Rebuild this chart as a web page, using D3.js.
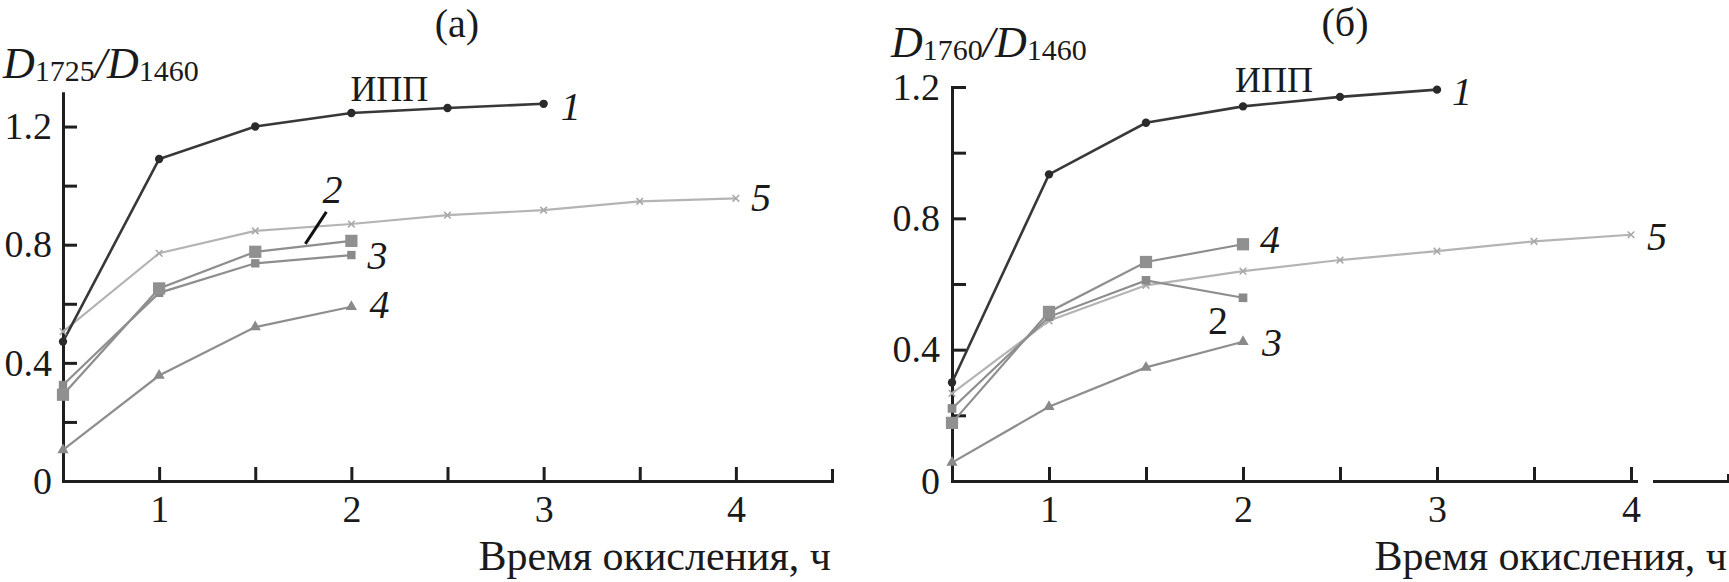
<!DOCTYPE html>
<html>
<head>
<meta charset="utf-8">
<script src="https://cdn.jsdelivr.net/npm/d3@7"></script>
<style>
  html, body { margin: 0; padding: 0; background: #fff; }
  svg { display: block; }
</style>
</head>
<body>
<svg id="chart" width="1729" height="582"></svg>
<script>
// ---------- data ----------
const xTicks = [1, 1.5, 2, 2.5, 3, 3.5, 4];
const xTickLabels = ["1", "", "2", "", "3", "", "4"];
const yTicks = [0, 0.2, 0.4, 0.6, 0.8, 1.0, 1.2];
const yTickLabels = ["0", "", "0.4", "", "0.8", "", "1.2"];

const timeLong = [0.5, 1, 1.5, 2, 2.5, 3, 3.5, 4];
const timeMid = [0.5, 1, 1.5, 2, 2.5, 3];
const timeShort = [0.5, 1, 1.5, 2];

// panel (а): D1725/D1460
const a1 = [0.472, 1.09, 1.20, 1.246, 1.263, 1.277];
const a2 = [0.292, 0.652, 0.776, 0.813];
const a3 = [0.325, 0.637, 0.737, 0.765];
const a4 = [0.105, 0.357, 0.521, 0.590];
const a5 = [0.506, 0.771, 0.847, 0.870, 0.900, 0.917, 0.947, 0.957];

// panel (б): D1760/D1460
const b1 = [0.300, 0.934, 1.091, 1.141, 1.170, 1.192];
const b2 = [0.221, 0.500, 0.611, 0.558];
const b3 = [0.056, 0.226, 0.346, 0.424];
const b4 = [0.177, 0.515, 0.667, 0.721];
const b5 = [0.267, 0.488, 0.596, 0.639, 0.673, 0.700, 0.730, 0.750];

const xTitle = "Время окисления, ч";

// ---------- drawing ----------
const FONT = "'Liberation Serif'";
const svg = d3.select("#chart");
const AX = "#1e1e1e";
const DARK = "#383838", MID = "#8e8e8e", LIGHT = "#b4b4b4";

function zip(xs, ys) { return xs.map((x, i) => ({ x, y: ys[i] })); }

function drawPanel(cfg) {
  const g = svg.append("g");
  const x = d3.scaleLinear().domain([0.5, 4.5]).range(cfg.xRange);
  const y = d3.scaleLinear().domain([0, cfg.yTop]).range([481, cfg.yTopPx]);

  // x axis
  const xa = g.append("g").attr("transform", `translate(0,${y(0)})`)
    .call(d3.axisBottom(x).tickValues(xTicks)
      .tickFormat((d, i) => xTickLabels[i])
      .tickSizeInner(-14).tickSizeOuter(cfg.outerX).tickPadding(14));
  xa.select(".domain").attr("stroke", AX).attr("stroke-width", 3);
  xa.selectAll(".tick line").attr("stroke", AX).attr("stroke-width", 3);
  xa.selectAll(".tick text").style("font-family", FONT).style("font-size", "38px").attr("fill", "#1a1a1a");

  // y axis
  const ya = g.append("g").attr("transform", `translate(${x(0.5)},0)`)
    .call(d3.axisLeft(y).tickValues(yTicks)
      .tickFormat((d, i) => yTickLabels[i])
      .tickSizeInner(-14).tickSizeOuter(cfg.outerY).tickPadding(cfg.yPad));
  ya.select(".domain").attr("stroke", AX).attr("stroke-width", 3);
  ya.selectAll(".tick line").attr("stroke", AX).attr("stroke-width", 3);
  ya.selectAll(".tick text").style("font-family", FONT).style("font-size", "38px").attr("fill", "#1a1a1a");

  if (cfg.gap) {
    g.append("line").attr("x1", cfg.gap[0]).attr("x2", cfg.gap[1])
      .attr("y1", y(0)).attr("y2", y(0)).attr("stroke", "#fff").attr("stroke-width", 5);
  }

  const line = d3.line().x(d => x(d.x)).y(d => y(d.y));

  cfg.series.forEach(s => {
    const pts = zip(s.t, s.v);
    g.append("path").datum(pts).attr("d", line)
      .attr("fill", "none").attr("stroke", s.line).attr("stroke-width", s.lw || 2.2);
  });
  cfg.series.forEach(s => {
    const pts = zip(s.t, s.v);
    const sym = d3.symbol().type(s.sym).size(s.size);
    const m = g.selectAll(null).data(pts).enter().append("path")
      .attr("d", sym)
      .attr("transform", d => `translate(${x(d.x)},${y(d.y)})`);
    if (s.sym === d3.symbolX) {
      m.attr("fill", "none").attr("stroke", s.mk).attr("stroke-width", 1.6);
    } else {
      m.attr("fill", s.mk).attr("stroke", "none");
    }
  });

  // y title
  const yt = g.append("text").attr("x", cfg.titleX).attr("y", cfg.titleY)
    .style("font-family", FONT).attr("fill", "#1a1a1a");
  yt.append("tspan").text("D").style("font-style", "italic").style("font-size", "44px");
  yt.append("tspan").text(cfg.sub1).style("font-size", "30px").attr("dy", 3);
  yt.append("tspan").text("/").style("font-size", "44px").attr("dy", -3).style("font-style", "italic");
  yt.append("tspan").text("D").style("font-style", "italic").style("font-size", "44px");
  yt.append("tspan").text("1460").style("font-size", "30px").attr("dy", 3);

  // panel letter
  g.append("text").attr("x", cfg.letterX).attr("y", cfg.letterY)
    .style("font-family", FONT).style("font-size", "40px").attr("fill", "#1a1a1a")
    .attr("text-anchor", "middle").text(cfg.letter);

  // x title
  g.append("text").attr("x", cfg.xRange[1] - 1).attr("y", 570)
    .style("font-family", FONT).style("font-size", "42px").attr("fill", "#1a1a1a")
    .attr("text-anchor", "end").text(xTitle);

  // annotations
  cfg.labels.forEach(l => {
    g.append("text")
      .style("font-family", FONT).style("font-size", (l.fs || 40) + "px")
      .style("font-style", l.italic === false ? "normal" : "italic")
      .attr("fill", "#1a1a1a")
      .attr("x", x(l.at[0]) + l.dx).attr("y", y(l.at[1]) + l.dy)
      .attr("text-anchor", l.anchor || "middle")
      .text(l.text);
  });
  (cfg.leaders || []).forEach(ld => {
    g.append("line")
      .attr("x1", x(ld.at[0]) + ld.d[0]).attr("y1", y(ld.at[1]) + ld.d[1])
      .attr("x2", x(ld.at[0]) + ld.d[2]).attr("y2", y(ld.at[1]) + ld.d[3])
      .attr("stroke", "#111").attr("stroke-width", 3);
  });
}

drawPanel({
  xRange: [63, 832], yTop: 1.318, yTopPx: 91.7, outerX: -12, outerY: 0, yPad: 11,
  titleX: 3, titleY: 78, sub1: "1725", letter: "(а)", letterX: 457, letterY: 37,
  series: [
    { t: timeLong, v: a5, line: LIGHT, mk: "#a8a8a8", sym: d3.symbolX, size: 30 },
    { t: timeShort, v: a4, line: MID, mk: "#8a8a8a", sym: d3.symbolTriangle, size: 55 },
    { t: timeShort, v: a3, line: MID, mk: "#8a8a8a", sym: d3.symbolSquare, size: 70 },
    { t: timeShort, v: a2, line: MID, mk: "#909090", sym: d3.symbolSquare, size: 150 },
    { t: timeMid, v: a1, line: DARK, mk: "#2a2a2a", sym: d3.symbolCircle, size: 55, lw: 2.6 }
  ],
  labels: [
    { text: "ИПП", at: [2, 1.246], dx: -1, dy: -12, anchor: "start", italic: false, fs: 36 },
    { text: "1", at: [3, 1.277], dx: 27, dy: 16 },
    { text: "5", at: [4, 0.957], dx: 25, dy: 13 },
    { text: "2", at: [2, 0.813], dx: -19, dy: -38 },
    { text: "3", at: [2, 0.765], dx: 26, dy: 14 },
    { text: "4", at: [2, 0.590], dx: 28, dy: 11 }
  ],
  leaders: [ { at: [2, 0.813], d: [-25, -29, -46, 3] } ]
});

drawPanel({
  xRange: [952, 1728], yTop: 1.2, yTopPx: 87, outerX: -7, outerY: -14, yPad: 12,
  titleX: 891, titleY: 57, sub1: "1760", letter: "(б)", letterX: 1345, letterY: 36,
  gap: [1638, 1653],
  series: [
    { t: timeLong, v: b5, line: LIGHT, mk: "#a8a8a8", sym: d3.symbolX, size: 30 },
    { t: timeShort, v: b3, line: MID, mk: "#8a8a8a", sym: d3.symbolTriangle, size: 55 },
    { t: timeShort, v: b2, line: MID, mk: "#8a8a8a", sym: d3.symbolSquare, size: 75 },
    { t: timeShort, v: b4, line: MID, mk: "#909090", sym: d3.symbolSquare, size: 150 },
    { t: timeMid, v: b1, line: DARK, mk: "#2a2a2a", sym: d3.symbolCircle, size: 55, lw: 2.6 }
  ],
  labels: [
    { text: "ИПП", at: [2, 1.141], dx: -8, dy: -14, anchor: "start", italic: false, fs: 36 },
    { text: "1", at: [3, 1.192], dx: 25, dy: 15 },
    { text: "5", at: [4, 0.750], dx: 26, dy: 15 },
    { text: "4", at: [2, 0.721], dx: 27, dy: 9 },
    { text: "2", at: [2, 0.558], dx: -25, dy: 36, italic: false },
    { text: "3", at: [2, 0.424], dx: 29, dy: 14 }
  ]
});
</script>
</body>
</html>
